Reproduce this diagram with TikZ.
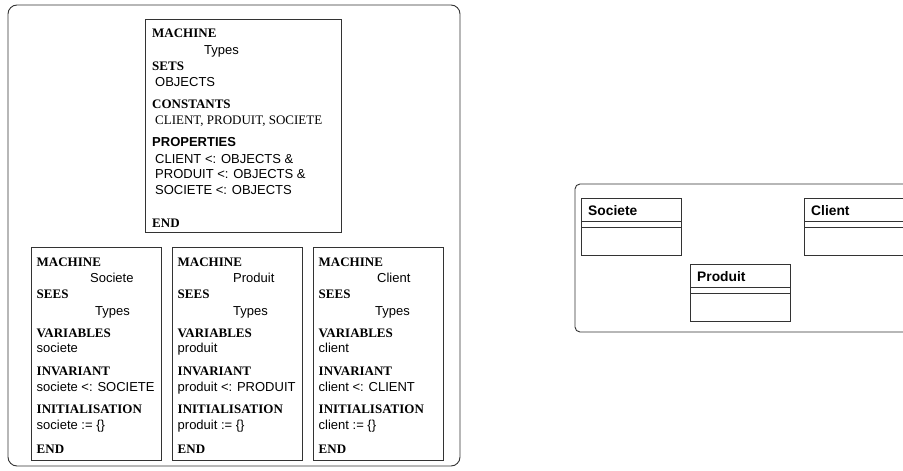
\documentclass[tikz,border=0pt]{standalone}
\usepackage{fontspec}
\setmainfont{Liberation Serif}
\setsansfont{Liberation Sans}
\usetikzlibrary{positioning}
\tikzset{
    kw/.style={anchor=base west, inner sep=0pt, font=\fontsize{13}{15}\selectfont\bfseries},
    val/.style={anchor=base west, inner sep=0pt, font=\fontsize{13}{15}\selectfont\sffamily},
    cls/.style={anchor=base west, inner sep=0pt, font=\fontsize{13.8}{15}\selectfont\sffamily\bfseries},
    frame/.style={draw=black!80, line width=0.9pt}
}

\begin{document}
\begin{tikzpicture}[x=1pt, y=-1pt]
\useasboundingbox (0,0) rectangle (903,471);
\clip (0,0) rectangle (903,471);
% module view
\draw[frame, rounded corners=9pt] (8,5) rectangle (460,466);
\draw[frame] (145,19) rectangle (341,232);
\node[kw] (tmach) at (152,37) {MACHINE};
\node[val] (tname) at (204,54) {Types};
\node[kw] (tsets) at (152,70) {SETS};
\node[val] (tobj) at (155,86) {OBJECTS};
\node[kw] (tcons) at (152,108) {CONSTANTS};
\node[anchor=base west, inner sep=0pt, font=\fontsize{13}{15}\selectfont] (tconsv) at (155,124) {CLIENT, PRODUIT, SOCIETE};
\node[cls, font=\fontsize{13}{15}\selectfont\sffamily\bfseries] (tprop) at (152,146) {PROPERTIES};
\node[val] (tp1) at (155,163) {CLIENT <: OBJECTS \&};
\node[val] (tp2) at (155,178) {PRODUIT <: OBJECTS \&};
\node[val] (tp3) at (155,194) {SOCIETE <: OBJECTS};
\node[kw] (tend) at (152,227) {END};
\foreach \x/\m/\v/\c/\dm/\dt in {31/Societe/societe/SOCIETE/59/64, 172/Produit/produit/PRODUIT/61/61, 313/Client/client/CLIENT/64/62}
{
    \draw[frame] (\x,247) rectangle ++(130,213);
    \node[kw] (mach\m) at (\x+5.5,266) {MACHINE};
    \node[val] (name\m) at (\x+\dm,282) {\m};
    \node[kw] (sees\m) at (\x+5.5,298) {SEES};
    \node[val] (types\m) at (\x+\dt,315) {Types};
    \node[kw] (vars\m) at (\x+5.5,337) {VARIABLES};
    \node[val] (var\m) at (\x+5.5,352) {\v};
    \node[kw] (inv\m) at (\x+5.5,375) {INVARIANT};
    \node[val] (invv\m) at (\x+5.5,391) {\v{} <: \c};
    \node[kw] (init\m) at (\x+5.5,413) {INITIALISATION};
    \node[val] (initv\m) at (\x+5.5,429) {\v{} := \{\}};
    \node[kw] (end\m) at (\x+5.5,453) {END};
}
% class view
\draw[frame, rounded corners=5pt] (575,184) rectangle (915,332);
\foreach \x/\y/\w/\c in {581/198/100/Societe, 690/264/100/Produit, 804/198/104/Client}
{
    \draw[frame] (\x,\y) rectangle ++(\w,57);
    \draw[frame] (\x,\y+23) -- ++(\w,0) (\x,\y+29) -- ++(\w,0);
    \node[cls] (cls\c) at (\x+7,\y+17) {\c};
}
\end{tikzpicture}
\end{document}
